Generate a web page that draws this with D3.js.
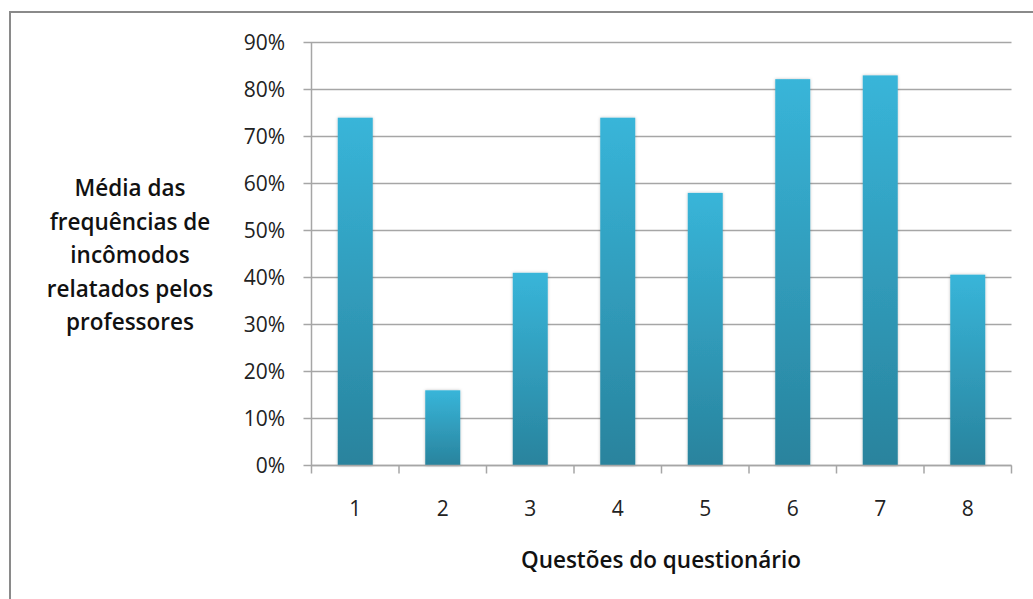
<!DOCTYPE html>
<html><head><meta charset="utf-8">
<script src="https://cdn.jsdelivr.net/npm/d3@7"></script>
<style>body{margin:0;background:#fff}svg{display:block}</style>
</head><body><svg id="c" width="1033" height="599"></svg>
<script>
const categories = ["1","2","3","4","5","6","7","8"];
const values = [0.74, 0.16, 0.41, 0.74, 0.58, 0.822, 0.83, 0.406];
const yTicks = [0,0.1,0.2,0.3,0.4,0.5,0.6,0.7,0.8,0.9];
const yTitleLines = ["Média das","frequências de","incômodos","relatados pelos","professores"];
const xTitle = "Questões do questionário";

const svg = d3.select("#c");
const defs = svg.append("defs");
const g1 = defs.append("linearGradient").attr("id","bg").attr("x1",0).attr("y1",0).attr("x2",0).attr("y2",1);
g1.append("stop").attr("offset","0%").attr("stop-color","#38b5d9");
g1.append("stop").attr("offset","100%").attr("stop-color","#29839d");
const f = defs.append("filter").attr("id","sh").attr("x","-20%").attr("y","-5%").attr("width","140%").attr("height","110%");
f.append("feDropShadow").attr("dx",0).attr("dy",0).attr("stdDeviation",1.5).attr("flood-color","#000").attr("flood-opacity",0.25);

svg.append("rect").attr("x",10).attr("y",12).attr("width",1040).attr("height",620)
  .attr("fill","none").attr("stroke","#8a8a8a").attr("stroke-width",2);

const L=311.5, R=1011.5, T=42.5, B=465.5;
const x = d3.scaleBand().domain(categories).range([L,R]).paddingInner(0.6).paddingOuter(0.3);
const xb = d3.scaleBand().domain(categories).range([L,R]);
const y = d3.scaleLinear().domain([0,0.9]).range([B,T]);

svg.append("g").selectAll("line").data(yTicks).join("line")
  .attr("x1",L-8).attr("x2",R).attr("y1",d=>y(d)).attr("y2",d=>y(d))
  .attr("stroke","#a6a6a6").attr("stroke-width",1.5);

svg.append("line").attr("x1",L).attr("x2",L).attr("y1",T).attr("y2",B).attr("stroke","#a6a6a6").attr("stroke-width",1.5);

svg.append("g").selectAll("text").data(yTicks).join("text")
  .attr("x",285).attr("y",d=>y(d)).attr("dy","0.36em").attr("text-anchor","end")
  .attr("font-family","Open Sans, sans-serif").attr("font-size",21).attr("fill","#222")
  .text(d=>d3.format(".0%")(d));

svg.append("g").selectAll("rect").data(values).join("rect")
  .attr("x",(d,i)=>x(categories[i])).attr("width",x.bandwidth())
  .attr("y",d=>y(d)).attr("height",d=>B-y(d))
  .attr("fill","url(#bg)").attr("filter","url(#sh)");

const bounds = categories.map(c=>xb(c)).concat([R]);
svg.append("g").selectAll("line").data(bounds).join("line")
  .attr("x1",d=>d).attr("x2",d=>d).attr("y1",B).attr("y2",B+8)
  .attr("stroke","#a6a6a6").attr("stroke-width",1.5);
svg.append("line").attr("x1",L).attr("x2",R).attr("y1",B).attr("y2",B).attr("stroke","#a6a6a6").attr("stroke-width",1.5);

svg.append("g").selectAll("text").data(categories).join("text")
  .attr("x",d=>xb(d)+xb.bandwidth()/2).attr("y",508).attr("dy","0.36em").attr("text-anchor","middle")
  .attr("font-family","Open Sans, sans-serif").attr("font-size",21).attr("fill","#222")
  .text(d=>d);

svg.append("text").attr("x",661).attr("y",560).attr("dy","0.36em").attr("text-anchor","middle")
  .attr("font-family","Open Sans, sans-serif").attr("font-weight",600).attr("font-size",22.5).attr("fill","#111")
  .text(xTitle);

svg.append("g").selectAll("text").data(yTitleLines).join("text")
  .attr("x",130).attr("y",(d,i)=>188+i*33.5).attr("dy","0.36em").attr("text-anchor","middle")
  .attr("font-family","Open Sans, sans-serif").attr("font-weight",600).attr("font-size",22.5).attr("fill","#111")
  .text(d=>d);
</script></body></html>
